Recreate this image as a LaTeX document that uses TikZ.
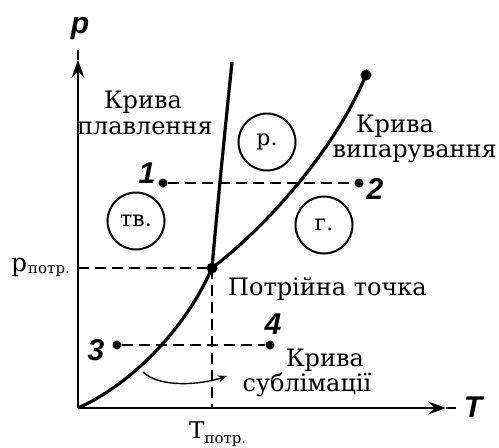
\documentclass[tikz,border=0pt]{standalone}
\usepackage{fontspec}
\setmainfont{DejaVu Serif}
\newfontfamily\axfont{Liberation Sans}
\usetikzlibrary{arrows.meta}
\begin{document}
\begin{tikzpicture}[x=1pt,y=-1pt,
  curve/.style={line width=3.2pt},
  axisln/.style={line width=2.4pt},
  axarrow/.style={line width=2.4pt,-{Stealth[length=18pt,width=13pt,inset=7pt]}},
  dashln/.style={line width=2.2pt,dash pattern=on 11pt off 6pt},
  phase/.style={circle,draw,line width=2pt,minimum size=57pt,inner sep=0pt,font=\fontsize{22}{22}\selectfont},
  lbl/.style={font=\fontsize{24}{24}\selectfont,inner sep=0pt,anchor=base},
  num/.style={font=\axfont\bfseries\itshape\fontsize{30}{30}\selectfont,inner sep=0pt},
  pt/.style={circle,fill,inner sep=0pt,minimum size=9pt}]
\useasboundingbox (0,0) rectangle (499,448);
\coordinate (O) at (78,408);
\coordinate (Yarr) at (78,60);
\coordinate (Ytop) at (78,50);
\coordinate (Xarr) at (446,408);
\coordinate (Xend) at (456,408);
\coordinate (TP) at (212,268);
\coordinate (Mtop) at (232,62);
\node[pt,minimum size=11pt] (Vend) at (366,75) {};
\draw[axarrow] (O) -- (Yarr);
\draw[axisln] (Yarr) -- (Ytop);
\draw[axarrow] (O) -- (Xarr);
\draw[axisln] (Xarr) -- (Xend);
\node[num] (plbl) at (80,29) {p};
\node[num] (Tlbl) at (473,407) {T};
% curves
\draw[curve] (O) .. controls (130,385) and (185,330) .. (TP);
\draw[curve] (TP) .. controls (265,228) and (335,150) .. (Vend.center);
\draw[curve] (TP) .. controls (218,200) and (226,120) .. (Mtop);
\node[pt,minimum size=11pt] (TPdot) at (TP) {};
% triple point dashed lines
\coordinate (Py) at (78,268);
\coordinate (Tx) at (212,408);
\draw[dashln] (Py) -- (TP);
\draw[dashln] (TP) -- (Tx);
% isobars
\node[pt] (p1) at (163,183) {};
\node[pt] (p2) at (359,183) {};
\node[pt] (p3) at (117,345) {};
\node[pt] (p4) at (270,345) {};
\draw[dashln] (p1) -- (p2);
\draw[dashln] (p3) -- (p4);
\node[num] (n1) at (147,173) {1};
\node[num] (n2) at (375,189) {2};
\node[num] (n3) at (96,350) {3};
\node[num] (n4) at (273,324) {4};
% phases
\node[phase] (tv) at (136,221) {тв.};
\node[phase] (r) at (267,142) {р.};
\node[phase] (g) at (324,225) {г.};
% labels
\node[lbl] (melt1) at (143,108) {Крива};
\node[lbl] (melt2) at (145,134) {плавлення};
\node[lbl] (vap1) at (395,132) {Крива};
\node[lbl,anchor=base east] (vap2) at (497,157) {випарування};
\node[lbl,anchor=base west] (triple) at (228,295) {Потрійна точка};
\node[lbl] (subl1) at (325,366) {Крива};
\node[lbl] (subl2) at (307,391) {сублімації};
\node[inner sep=0pt,anchor=base west] (ptp) at (11,271) {\fontsize{25}{25}\selectfont p\hspace{1pt}\raisebox{-2pt}{\fontsize{15}{15}\selectfont потр.}};
\node[inner sep=0pt,anchor=base west] (ttp) at (189,438) {\fontsize{23}{23}\selectfont T\raisebox{-5pt}{\fontsize{15}{15}\selectfont потр.}};
% sublimation arrow
\coordinate (sa) at (143,372);
\coordinate (sb) at (227,376);
\draw[line width=1.4pt,-{Stealth[length=9pt,width=7pt]}] (sa) .. controls (160,388) and (200,385) .. (sb);
\end{tikzpicture}
\end{document}
